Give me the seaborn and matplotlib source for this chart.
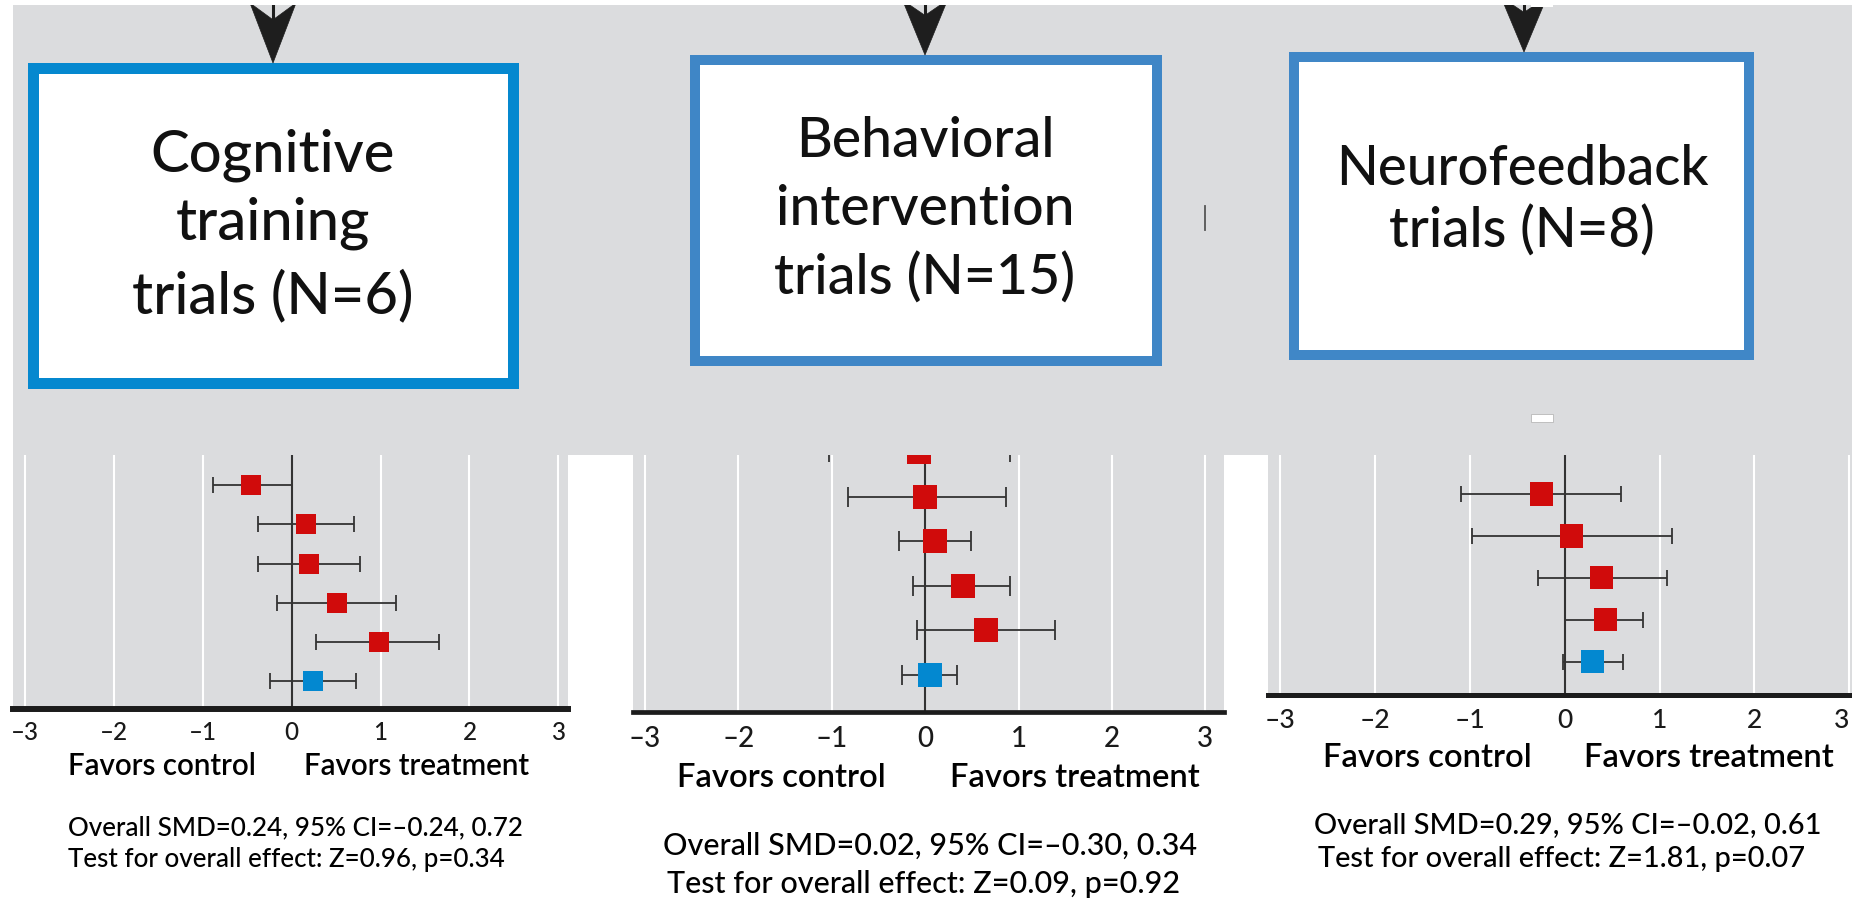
import os
import numpy as np
import pandas as pd
import matplotlib
matplotlib.use("Agg")
import matplotlib.pyplot as plt
import matplotlib.font_manager as fm
from matplotlib.patches import Rectangle, Polygon
from matplotlib.lines import Line2D
import seaborn as sns

# ---------------- data ----------------
tick_values = [-3, -2, -1, 0, 1, 2, 3]
tick_labels = ["–3", "–2", "–1", "0", "1", "2", "3"]
side_labels = ["Favors control", "Favors treatment"]

cog_title = ["Cognitive", "training", "trials (N=6)"]
cog_smd = [-0.45, 0.16, 0.20, 0.51, 0.98, 0.24]
cog_lo = [-0.88, -0.38, -0.38, -0.16, 0.28, -0.24]
cog_hi = [0.00, 0.70, 0.77, 1.17, 1.66, 0.72]
cog_kind = ["trial", "trial", "trial", "trial", "trial", "overall"]
cog_stats = ["Overall SMD=0.24, 95% CI=–0.24, 0.72",
             "Test for overall effect: Z=0.96, p=0.34"]

beh_title = ["Behavioral", "intervention", "trials (N=15)"]
beh_smd = [-0.07, 0.00, 0.10, 0.40, 0.65, 0.05]
beh_lo = [-1.03, -0.83, -0.28, -0.13, -0.09, -0.25]
beh_hi = [0.91, 0.87, 0.49, 0.91, 1.39, 0.34]
beh_kind = ["trial", "trial", "trial", "trial", "trial", "overall"]
beh_stats = ["Overall SMD=0.02, 95% CI=–0.30, 0.34",
             "Test for overall effect: Z=0.09, p=0.92"]

neu_title = ["Neurofeedback", "trials (N=8)"]
neu_smd = [-0.25, 0.07, 0.39, 0.43, 0.29]
neu_lo = [-1.10, -0.98, -0.28, 0.00, -0.02]
neu_hi = [0.59, 1.13, 1.08, 0.83, 0.61]
neu_kind = ["trial", "trial", "trial", "trial", "overall"]
neu_stats = ["Overall SMD=0.29, 95% CI=–0.02, 0.61",
             "Test for overall effect: Z=1.81, p=0.07"]

# ---------------- style ----------------
GRAY = "#DBDCDE"
RED = "#D00B0B"
BLUE = "#0388D0"
ERR = "#333333"
PAL = {"trial": RED, "overall": BLUE}

W, H = 1852, 899
fig = plt.figure(figsize=(W / 100, H / 100), dpi=100)
fig.patch.set_facecolor("white")
renderer = fig.canvas.get_renderer()

FP_REG = fm.FontProperties(family="Lato", weight="medium")
FP_BOLD = fm.FontProperties(family="Lato", weight="semibold")


def fp_sized(base, size):
    p = base.copy()
    p.set_size(size)
    return p


def fx(x):
    return x / W


def fy(y):
    return 1 - y / H


def fit_group(items, base, size0, color="black"):
    """items: (x_px, baseline_px, text, target_width_px, ha)"""
    texts = []
    for x, y, s, tw, ha in items:
        t = fig.text(fx(x), fy(y), s, fontproperties=fp_sized(base, size0),
                     ha=ha, va="baseline", color=color, zorder=8)
        texts.append(t)
    widths = [t.get_window_extent(renderer).width for t in texts]
    targets = [it[3] for it in items]
    ratio = sum(targets) / sum(widths)
    ratio = min(max(ratio, 0.82), 1.18)
    for t in texts:
        t.set_fontproperties(fp_sized(base, size0 * ratio))
    return texts


def add_rect_px(x0, y0, x1, y1, **kw):
    r = Rectangle((fx(x0), fy(y1)), (x1 - x0) / W, (y1 - y0) / H,
                  transform=fig.transFigure, **kw)
    fig.add_artist(r)
    return r


# top gray band
add_rect_px(13, 0, W, 455, facecolor=GRAY, edgecolor="none", zorder=-1)


def draw_panel(rect_px, xlim, ylim, smd, lo, hi, kind, msize, cap, spine_w, pad, tick_size):
    x0, y0, x1, y1 = rect_px
    ax = fig.add_axes([fx(x0), fy(y1), (x1 - x0) / W, (y1 - y0) / H])
    ax.set_facecolor(GRAY)
    df = pd.DataFrame({"smd": smd, "lo": lo, "hi": hi, "kind": kind})
    df["row"] = np.arange(len(df))
    for g in tick_values:
        if g != 0:
            ax.axvline(g, color="white", lw=1.5, zorder=1)
    ax.axvline(0, color=ERR, lw=1.5, zorder=2)
    ax.errorbar(df["smd"], df["row"],
                xerr=[df["smd"] - df["lo"], df["hi"] - df["smd"]],
                fmt="none", ecolor=ERR, elinewidth=1.3, capsize=cap,
                capthick=1.3, zorder=3)
    sns.scatterplot(data=df, x="smd", y="row", hue="kind", palette=PAL,
                    marker="s", s=msize ** 2, linewidth=0, legend=False,
                    ax=ax, zorder=4)
    ax.set_xlim(*xlim)
    ax.set_ylim(*ylim)
    ax.set_xlabel("")
    ax.set_ylabel("")
    ax.set_yticks([])
    ax.set_xticks(tick_values)
    ax.set_xticklabels(tick_labels, fontproperties=fp_sized(FP_REG, tick_size),
                       va="baseline", color="#1a1a1a")
    ax.tick_params(axis="x", length=0, pad=pad)
    for s in ["top", "left", "right"]:
        ax.spines[s].set_visible(False)
    ax.spines["bottom"].set_linewidth(spine_w)
    ax.spines["bottom"].set_color("#1c1c1c")
    ax.spines["bottom"].set_zorder(5)
    return ax


# panels
draw_panel((13, 455, 568, 709), (-3.13, 3.107), (5.72, -0.775),
           cog_smd, cog_lo, cog_hi, cog_kind, 14.4, 5.8, 4.3, 22.3, 17.5)
draw_panel((633, 455, 1224, 712), (-3.128, 3.199), (5.83, 0.067),
           beh_smd, beh_lo, beh_hi, beh_kind, 17.3, 7.2, 3.4, 25.2, 20)
ax3 = draw_panel((1268, 455, 1852, 695), (-3.131, 3.03), (4.79, -0.93),
                 neu_smd, neu_lo, neu_hi, neu_kind, 16.6, 6.1, 3.6, 23.8, 19)
# last label sits at the right border: keep it inside the picture
ax3.get_xticklabels()[-1].set_ha("right")

# side labels
fit_group([(68, 775, side_labels[0], 193, "left"),
           (304, 775, side_labels[1], 236, "left")], FP_BOLD, 18)
fit_group([(677, 787, side_labels[0], 226, "left"),
           (950, 787, side_labels[1], 273, "left")], FP_BOLD, 20)
fit_group([(1323, 767, side_labels[0], 216, "left"),
           (1584, 767, side_labels[1], 263, "left")], FP_BOLD, 20)

# stats
fit_group([(68, 835, cog_stats[0], 447, "left"),
           (68, 867, cog_stats[1], 446, "left")], FP_REG, 17)
fit_group([(663, 855, beh_stats[0], 526, "left"),
           (667, 893, beh_stats[1], 518, "left")], FP_REG, 20)
fit_group([(1314, 833, neu_stats[0], 500, "left"),
           (1318, 867, neu_stats[1], 494, "left")], FP_REG, 19)


# boxes
def box(x0, y0, x1, y1, t, color):
    add_rect_px(x0 + t / 2, y0 + t / 2, x1 - t / 2, y1 - t / 2,
                facecolor="white", edgecolor=color, lw=t * 0.72,
                joinstyle="miter", zorder=5)


box(27, 62, 518, 388, 11, "#0588CF")
box(690, 55, 1162, 366, 10, "#3F86C6")
box(1289, 52, 1754, 360, 10, "#4087C7")


def arrow(x, tip, hw, hl):
    back = tip - hl
    pts = [(x, tip), (x - hw / 2, back), (x, back + hl * 0.28), (x + hw / 2, back)]
    poly = Polygon([(fx(a), fy(b)) for a, b in pts], closed=True,
                   transform=fig.transFigure, facecolor="#1e1e1e",
                   edgecolor="#1e1e1e", lw=0.5, zorder=6)
    fig.add_artist(poly)
    fig.add_artist(Line2D([fx(x), fx(x)], [fy(-5), fy(back + hl * 0.3)],
                          transform=fig.transFigure, color="#1e1e1e",
                          lw=2.2, zorder=6))


arrow(273, 63, 46, 60)
arrow(925, 55, 45, 55)
arrow(1524, 52, 46, 55)

# white top strip and small artefacts
add_rect_px(0, 0, W, 5, facecolor="white", edgecolor="none", zorder=7)
add_rect_px(1531, 0, 1553, 7, facecolor="white", edgecolor="none", zorder=7)
add_rect_px(1531, 414, 1553, 422, facecolor="white", edgecolor="#b8b8b8", lw=0.6, zorder=7)
fig.add_artist(Line2D([fx(1205), fx(1205)], [fy(206), fy(230)],
                      transform=fig.transFigure, color="#555555", lw=1.3, zorder=7))

# box titles
fit_group([(273, 172, cog_title[0], 235, "center"),
           (273, 240, cog_title[1], 202, "center"),
           (273, 313, cog_title[2], 285, "center")], FP_REG, 42, color="#111111")
fit_group([(925, 157, beh_title[0], 259, "center"),
           (925, 225, beh_title[1], 300, "center"),
           (925, 295, beh_title[2], 300, "center")], FP_REG, 37, color="#111111")
fit_group([(1522, 185, neu_title[0], 371, "center"),
           (1522, 248, neu_title[1], 267, "center")], FP_REG, 38, color="#111111")

fig.savefig("out.png", dpi=100, facecolor="white")
